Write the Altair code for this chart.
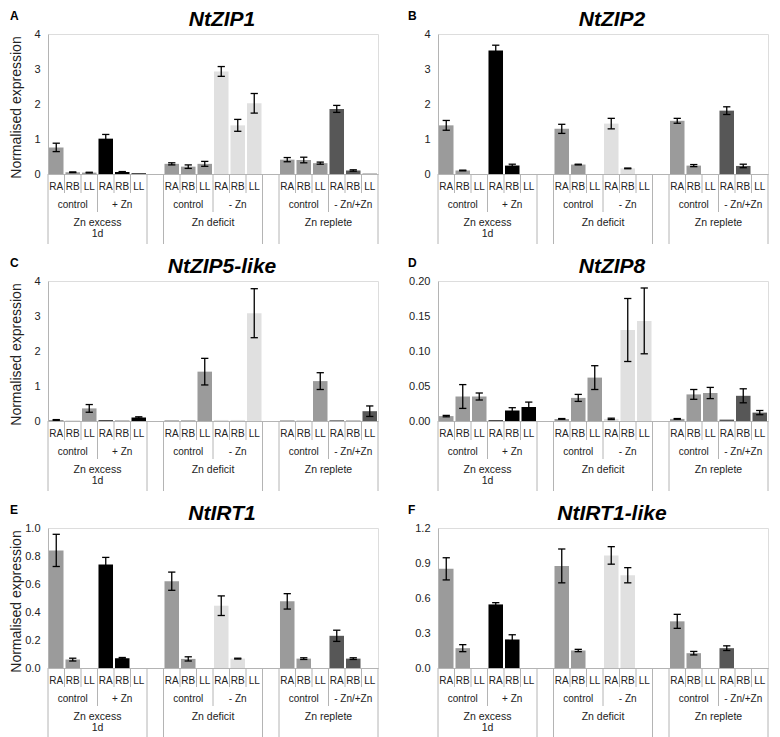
import altair as alt
import pandas as pd

# ---------------- data ----------------
genes = ["NtZIP1", "NtZIP2", "NtZIP5-like", "NtZIP8", "NtIRT1", "NtIRT1-like"]
panel_letters = ["A", "B", "C", "D", "E", "F"]
experiments = ["Zn excess\n1d", "Zn deficit", "Zn replete"]
treatments = [["control", "+ Zn"], ["control", "- Zn"], ["control", "- Zn/+Zn"]]
tissues = ["RA", "RB", "LL"]
treatment_order = ["control", "+ Zn", "- Zn", "- Zn/+Zn"]
treatment_colors = ["#9b9b9b", "#000000", "#e0e0e0", "#575757"]

y_max = [4, 4, 4, 0.20, 1.0, 1.2]
y_ticks = [
    [0, 1, 2, 3, 4],
    [0, 1, 2, 3, 4],
    [0, 1, 2, 3, 4],
    [0, 0.05, 0.10, 0.15, 0.20],
    [0, 0.2, 0.4, 0.6, 0.8, 1.0],
    [0, 0.3, 0.6, 0.9, 1.2],
]
y_formats = ["d", "d", "d", ".2f", ".1f", ".1f"]

# order per gene: Zn excess (control RA RB LL, +Zn RA RB LL),
#                 Zn deficit (control RA RB LL, -Zn RA RB LL),
#                 Zn replete (control RA RB LL, -Zn/+Zn RA RB LL)
zip1_mean = [0.76, 0.05, 0.04, 1.01, 0.06, 0.02,
             0.29, 0.21, 0.29, 2.93, 1.39, 2.02,
             0.41, 0.40, 0.31, 1.86, 0.10, 0.01]
zip1_err = [0.12, 0.01, 0.01, 0.12, 0.01, 0.0,
            0.03, 0.05, 0.07, 0.14, 0.17, 0.28,
            0.06, 0.08, 0.03, 0.10, 0.02, 0.0]

zip2_mean = [1.39, 0.10, 0.0, 3.53, 0.24, 0.0,
             1.29, 0.27, 0.0, 1.44, 0.16, 0.0,
             1.52, 0.24, 0.0, 1.81, 0.23, 0.0]
zip2_err = [0.14, 0.01, 0.0, 0.15, 0.04, 0.0,
            0.13, 0.01, 0.0, 0.15, 0.01, 0.0,
            0.07, 0.03, 0.0, 0.11, 0.05, 0.0]

zip5_mean = [0.03, 0.01, 0.36, 0.02, 0.01, 0.10,
             0.02, 0.02, 1.41, 0.03, 0.03, 3.08,
             0.02, 0.01, 1.14, 0.02, 0.01, 0.28]
zip5_err = [0.01, 0.0, 0.11, 0.0, 0.0, 0.02,
            0.0, 0.0, 0.38, 0.0, 0.0, 0.70,
            0.0, 0.0, 0.24, 0.0, 0.0, 0.15]

zip8_mean = [0.007, 0.035, 0.035, 0.001, 0.015, 0.020,
             0.003, 0.033, 0.062, 0.003, 0.130, 0.143,
             0.003, 0.038, 0.040, 0.002, 0.036, 0.012]
zip8_err = [0.001, 0.017, 0.005, 0.0, 0.004, 0.007,
            0.0005, 0.005, 0.017, 0.001, 0.045, 0.047,
            0.0005, 0.007, 0.008, 0.0, 0.010, 0.003]

irt1_mean = [0.84, 0.06, 0.0, 0.74, 0.07, 0.0,
             0.62, 0.065, 0.0, 0.445, 0.067, 0.0,
             0.476, 0.067, 0.0, 0.23, 0.067, 0.0]
irt1_err = [0.115, 0.01, 0.0, 0.05, 0.005, 0.0,
            0.065, 0.015, 0.0, 0.07, 0.003, 0.0,
            0.055, 0.006, 0.0, 0.04, 0.006, 0.0]

irt1l_mean = [0.85, 0.17, 0.0, 0.545, 0.245, 0.0,
              0.875, 0.15, 0.0, 0.965, 0.795, 0.0,
              0.40, 0.127, 0.0, 0.17, 0.0, 0.0]
irt1l_err = [0.095, 0.03, 0.0, 0.015, 0.04, 0.0,
             0.145, 0.01, 0.0, 0.075, 0.065, 0.0,
             0.06, 0.015, 0.0, 0.02, 0.0, 0.0]

means = [zip1_mean, zip2_mean, zip5_mean, zip8_mean, irt1_mean, irt1l_mean]
errs = [zip1_err, zip2_err, zip5_err, zip8_err, irt1_err, irt1l_err]

# ---------------- styling ----------------
W, H = 330, 140
FONT = "Liberation Sans"
AX = "#b4b4b4"
TXT = "#222222"
N_SLOTS = 20


def panel(i, left_col):
    rows = []
    for e in range(3):
        for t in range(2):
            for k in range(3):
                n = e * 6 + t * 3 + k
                s = e * 7 + t * 3 + k
                m = means[i][n]
                er = errs[i][n]
                rows.append({
                    "x0": s + 0.06, "x1": s + 0.94, "xc": s + 0.5,
                    "cl": s + 0.28, "cr": s + 0.72,
                    "mean": m, "zero": 0.0, "err": er,
                    "lo": max(m - er, 0), "hi": m + er,
                    "treatment": treatments[e][t], "tissue": tissues[k],
                })
    df = pd.DataFrame(rows)
    err_df = df[df["err"] > 0]

    treat_df = pd.DataFrame([
        {"xc": e * 7 + t * 3 + 1.5, "label": treatments[e][t]}
        for e in range(3) for t in range(2)
    ])
    exp_df = pd.DataFrame([{"xc": e * 7 + 3, "label": experiments[e]} for e in range(3)])
    sep_tissue = pd.DataFrame({"pos": [e * 7 + t * 3 + k for e in range(3) for t in range(2) for k in (1, 2)]})
    sep_treat = pd.DataFrame({"pos": [e * 7 + 3 for e in range(3)]})
    sep_exp = pd.DataFrame({"pos": [p for e in range(3) for p in (e * 7, e * 7 + 6)]})

    xs = alt.Scale(domain=[0, N_SLOTS], nice=False, zero=False)
    ys = alt.Scale(domain=[0, y_max[i]], nice=False)
    x_axis = alt.Axis(labels=False, ticks=False, grid=False, title=None,
                      domainColor=AX, domainWidth=1)
    yax = dict(values=y_ticks[i], format=y_formats[i], grid=False, ticks=False,
               domainColor=AX, domainWidth=1, labelFontSize=11, labelColor=TXT,
               labelFont=FONT, labelPadding=8)
    if left_col:
        yax.update(title="Normalised expression", titleFontSize=14, titleFont=FONT,
                   titleFontWeight="normal", titleColor=TXT, titleX=-25,
                   titleY=H / 2 + 3, titleAngle=270, titleBaseline="bottom",
                   titleAlign="center")
    else:
        yax.update(title=None)
    y_axis = alt.Axis(**yax)

    def X(f):
        return alt.X(f, type="quantitative", scale=xs, axis=x_axis)

    def Y(f):
        return alt.Y(f, type="quantitative", scale=ys, axis=y_axis, stack=None)

    bars = alt.Chart(df).mark_bar().encode(
        x=X("x0"), x2="x1", y=Y("mean"), y2="zero",
        color=alt.Color("treatment:N",
                        scale=alt.Scale(domain=treatment_order, range=treatment_colors),
                        legend=None),
    )
    ebar = alt.Chart(err_df).mark_rule(color="black", strokeWidth=1.3).encode(
        x=X("xc"), y=Y("lo"), y2="hi")
    cap_hi = alt.Chart(err_df).mark_rule(color="black", strokeWidth=1.3).encode(
        x=X("cl"), x2="cr", y=Y("hi"))
    cap_lo = alt.Chart(err_df).mark_rule(color="black", strokeWidth=1.3).encode(
        x=X("cl"), x2="cr", y=Y("lo"))

    s1 = alt.Chart(sep_tissue).mark_rule(color=AX, strokeWidth=1).encode(
        x=X("pos"), y=alt.value(H), y2=alt.value(H + 19))
    s2 = alt.Chart(sep_treat).mark_rule(color=AX, strokeWidth=1).encode(
        x=X("pos"), y=alt.value(H), y2=alt.value(H + 38))
    s3 = alt.Chart(sep_exp).mark_rule(color=AX, strokeWidth=1).encode(
        x=X("pos"), y=alt.value(H), y2=alt.value(H + 70))

    t_tissue = alt.Chart(df).mark_text(font=FONT, fontSize=10, color=TXT,
                                       baseline="middle", align="center").encode(
        x=X("xc"), y=alt.value(H + 12.5), text="tissue:N")
    t_treat = alt.Chart(treat_df).mark_text(font=FONT, fontSize=10, color=TXT,
                                            baseline="middle", align="center").encode(
        x=X("xc"), y=alt.value(H + 31), text="label:N")
    t_exp = alt.Chart(exp_df).mark_text(font=FONT, fontSize=10.5, color=TXT,
                                        baseline="top", align="center",
                                        lineBreak="\n", lineHeight=10.5).encode(
        x=X("xc"), y=alt.value(H + 44), text="label:N")

    title = alt.Chart(pd.DataFrame({"label": [genes[i]]})).mark_text(
        font=FONT, fontSize=21, fontWeight="bold", fontStyle="italic",
        color="black", align="center", baseline="alphabetic").encode(
        x=alt.value(W / 2 + 9), y=alt.value(-8), text="label:N")
    letter = alt.Chart(pd.DataFrame({"label": [panel_letters[i]]})).mark_text(
        font=FONT, fontSize=12, fontWeight="bold", color="black",
        align="left", baseline="alphabetic").encode(
        x=alt.value(-38 if left_col else -30), y=alt.value(-14), text="label:N")

    return alt.layer(bars, ebar, cap_hi, cap_lo, s1, s2, s3,
                     t_tissue, t_treat, t_exp, title, letter).properties(width=W, height=H)


panels = [panel(i, i % 2 == 0) for i in range(6)]

chart = alt.concat(*panels, columns=2, spacing={"row": 107, "column": 60},
                   bounds="flush").properties(
    padding=0, background="white"
).configure_view(stroke=None).configure(font=FONT)

chart.save("out.html", embed_options={"renderer": "svg", "actions": False})
